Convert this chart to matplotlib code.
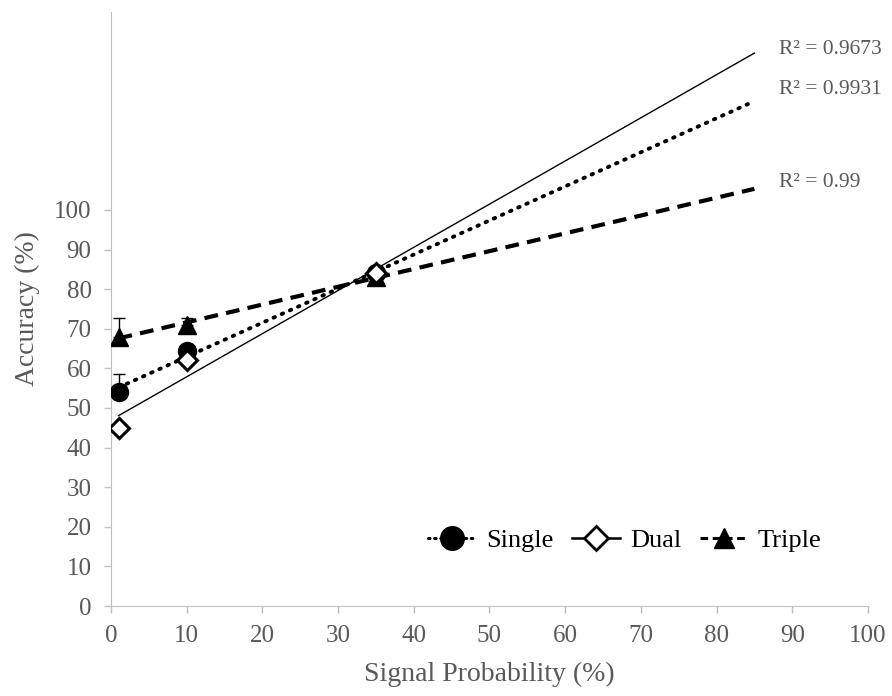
import numpy as np
import matplotlib
matplotlib.use("Agg")
import matplotlib.pyplot as plt
from matplotlib.lines import Line2D

x = [1, 10, 35]
single = [54, 64.5, 84]
single_err = [4.5, 1.5, 1.0]
dual = [45, 62, 84]
dual_err = [1.0, 1.0, 1.0]
triple = [68, 71, 83]
triple_err = [4.8, 1.8, 1.0]
r2_labels = ["R\u00b2 = 0.9673", "R\u00b2 = 0.9931", "R\u00b2 = 0.99"]
xticks = list(range(0, 101, 10))
yticks = list(range(0, 101, 10))

plt.rcParams['font.family'] = ['Liberation Serif', 'DejaVu Serif']
fig = plt.figure(figsize=(8.92, 6.96), dpi=100)
ax = fig.add_axes([0.1244, 0.1293, 0.8486, 0.8537])
gray = '#595959'
spine = '#bfbfbf'

xs = np.array(x, dtype=float)
xfit = np.array([1, 85])

def trend(vals, **kw):
    p = np.polyfit(xs, vals, 1)
    ax.plot(xfit, np.polyval(p, xfit), color='black', **kw)

dot_ls = (0, (0.4, 1.9))
dash_ls = (0, (3.3, 2.0))
trend(dual, lw=1.0, ls='-')
trend(single, lw=2.8, ls=dot_ls, dash_capstyle='round')
trend(triple, lw=3.0, ls=dash_ls)

def plus(err):
    return [np.zeros(len(err)), err]

ms = 13
ax.errorbar(x, single, yerr=plus(single_err), fmt='o', color='black', ms=ms, capsize=4.5, elinewidth=1, zorder=5)
ax.errorbar(x, dual, yerr=plus(dual_err), fmt='D', color='black', mfc='white', mew=2.2, ms=ms*0.8, capsize=4.5, elinewidth=1, zorder=6)
ax.errorbar(x, triple, yerr=plus(triple_err), fmt='^', color='black', ms=ms, capsize=4.5, elinewidth=1, zorder=5)

r2_y = [140.4, 130.3, 106.8]
for lab, yy in zip(r2_labels, r2_y):
    ax.text(88.3, yy, lab, fontsize=15.5, color=gray, va='center')

ax.set_xlim(0, 100)
ax.set_ylim(0, 150)
ax.set_xticks(xticks)
ax.set_yticks(yticks)
ax.tick_params(colors=spine, labelcolor=gray, labelsize=18, length=5, width=1, pad=9)
for s in ['top', 'right']:
    ax.spines[s].set_visible(False)
for s in ['left', 'bottom']:
    ax.spines[s].set_color(spine)
ax.set_xlabel('Signal Probability (%)', fontsize=20, color=gray)
ax.set_ylabel('Accuracy (%)', fontsize=20, color=gray)
ax.xaxis.set_label_coords(0.5, -0.094)
ax.yaxis.set_label_coords(-0.094, 0.5)

handles = [
    Line2D([], [], color='black', ls=(0, (0.5, 1.5)), lw=2.2, marker='o', ms=17, dash_capstyle='round'),
    Line2D([], [], color='black', ls='-', lw=1.8, marker='D', mfc='white', mew=2, ms=12),
    Line2D([], [], color='black', ls=(0, (2.5, 1.5)), lw=2.2, marker='^', ms=15),
]
ax.legend(handles, ['Single', 'Dual', 'Triple'], loc='center', bbox_to_anchor=(0.679, 0.111),
          ncol=3, frameon=False, fontsize=19, handlelength=1.8, columnspacing=0.7, handletextpad=0.4)

fig.savefig('out.png', dpi=100)
